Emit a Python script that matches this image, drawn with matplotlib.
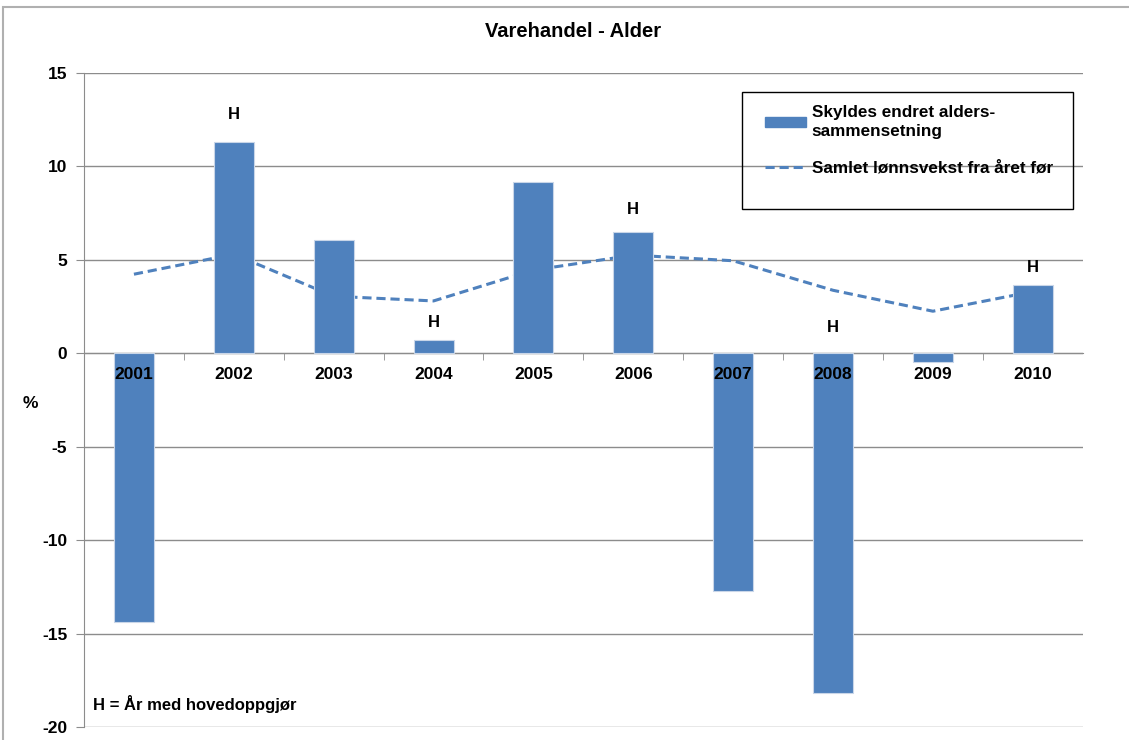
import numpy as np
import matplotlib.pyplot as plt
from matplotlib.patches import Rectangle
from matplotlib.lines import Line2D
from matplotlib.patches import Patch

years = ['2001', '2002', '2003', '2004', '2005', '2006', '2007', '2008', '2009', '2010']
alder = [-14.4, 11.3, 6.05, 0.7, 9.15, 6.5, -12.7, -18.2, -0.45, 3.65]
lonnsvekst = [4.23, 5.3, 3.05, 2.8, 4.45, 5.25, 4.95, 3.37, 2.25, 3.3]
h_years = ['2002', '2004', '2006', '2008', '2010']
h_level = [12.8, 1.66, 7.7, 1.39, 4.6]

blue = '#4F81BD'
plt.rcParams['font.family'] = ['Liberation Sans', 'DejaVu Sans']

fig = plt.figure(figsize=(11.29, 7.40), dpi=100)
ax = fig.add_axes([0.0744, 0.0176, 0.8846, 0.8838])

x = np.arange(len(years))
ax.plot(x, lonnsvekst, color=blue, lw=2.2, ls=(0, (3, 1.6)), zorder=2)
ax.bar(x, alder, width=0.4, color=blue, edgecolor='#c9d6e8', linewidth=0.8, zorder=3)

for yr, lev in zip(h_years, h_level):
    ax.text(years.index(yr), lev, 'H', ha='center', va='center',
            fontsize=12, fontweight='bold', zorder=5)

ax.set_xlim(-0.5, len(years) - 0.5)
ax.set_ylim(-20, 15)
ax.set_yticks(range(-20, 16, 5))
ax.set_yticklabels([str(v) for v in range(-20, 16, 5)], fontsize=12.5, fontweight='bold')
ax.yaxis.grid(True, color='#8c8c8c', lw=1)
ax.set_axisbelow(True)
ax.tick_params(axis='y', length=6, color='#8c8c8c', pad=6)

ax.spines['bottom'].set_position(('data', 0))
ax.spines['bottom'].set_color('#8c8c8c')
ax.spines['left'].set_color('#8c8c8c')
ax.spines['top'].set_visible(False)
ax.spines['right'].set_visible(False)
ax.set_xticks(x)
ax.set_xticklabels(years, fontsize=12.5, fontweight='bold')
ax.set_xticks(np.arange(0.5, len(years) - 0.5), minor=True)
ax.tick_params(axis='x', which='major', length=0, pad=10)
ax.tick_params(axis='x', which='minor', length=5, color='#8c8c8c')
ax.xaxis.set_zorder(5)

fig.text(0.5075, 0.957, 'Varehandel - Alder', fontsize=14.5, fontweight='bold', ha='center', va='center')
fig.text(0.027, 0.455, '%', fontsize=12.5, fontweight='bold', ha='center', va='center')
fig.text(0.082, 0.049, 'H = År med hovedoppgjør', fontsize=12, fontweight='bold', ha='left', va='center')

handles = [Patch(facecolor=blue, edgecolor=blue),
           Line2D([0], [0], color=blue, lw=2.2, ls=(0, (3, 1.6)))]
labels = ['Skyldes endret alders-\nsammensetning', 'Samlet lønnsvekst fra året før']
leg = fig.legend(handles, labels, loc='upper left', bbox_to_anchor=(0.678, 0.858),
                 prop={'weight': 'bold', 'size': 12.3}, frameon=False,
                 handlelength=2.4, handleheight=0.55, handletextpad=0.3,
                 labelspacing=1.3, borderpad=0, borderaxespad=0)
for t in leg.get_texts():
    t.set_linespacing(1.3)

fig.patches.append(Rectangle((0.657, 0.7176), 0.2932, 0.1581, transform=fig.transFigure,
                             fill=False, edgecolor='black', lw=1, zorder=6))
fig.patches.append(Rectangle((0.003, -0.1), 1.2, 1.09, transform=fig.transFigure,
                             fill=False, edgecolor='#b0b0b0', lw=1.5))

fig.savefig('out.png', dpi=100)
